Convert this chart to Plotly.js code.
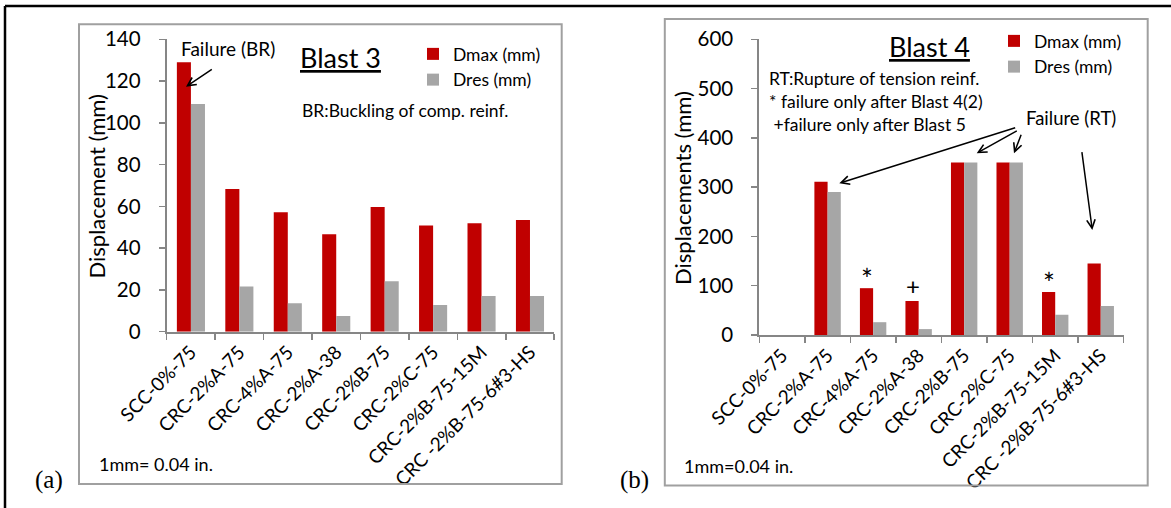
<!DOCTYPE html>
<html>
<head>
<meta charset="utf-8">
<script src="https://cdn.plot.ly/plotly-3.0.1.min.js"></script>
<style>
html,body{margin:0;padding:0;background:#fff;}
#chart{width:1171px;height:508px;}
</style>
</head>
<body>
<div id="chart"></div>
<script>
// ---- data ----
const categories = ['SCC-0%-75','CRC-2%A-75','CRC-4%A-75','CRC-2%A-38','CRC-2%B-75','CRC-2%C-75','CRC-2%B-75-15M','CRC -2%B-75-6#3-HS'];
const blast3Dmax = [129, 68.3, 57.2, 46.6, 59.7, 50.9, 51.9, 53.5];
const blast3Dres = [109, 21.6, 13.6, 7.5, 24.1, 12.8, 17.1, 17.1];
const blast4Dmax = [null, 311, 95, 69, 350, 350, 87, 145];
const blast4Dres = [null, 290, 26, 12, 350, 350, 41, 59];
const seriesNames = ['Dmax (mm)', 'Dres (mm)'];
const blast3Ticks = [0, 20, 40, 60, 80, 100, 120, 140];
const blast4Ticks = [0, 100, 200, 300, 400, 500, 600];

// ---- styling helpers ----
const W = 1171, H = 508;
const px = v => v / W;
const py = v => 1 - v / H;
const FONT = 'Lato, "Open Sans", sans-serif';
const SERIF = '"Liberation Serif", "Times New Roman", serif';
const RED = '#C00000', GREY = '#A6A6A6', AXIS = '#868686';

const traces = [
  {type:'bar', x:categories, y:blast3Dmax, name:seriesNames[0], marker:{color:RED}, xaxis:'x', yaxis:'y', legend:'legend'},
  {type:'bar', x:categories, y:blast3Dres, name:seriesNames[1], marker:{color:GREY}, xaxis:'x', yaxis:'y', legend:'legend'},
  {type:'bar', x:categories, y:blast4Dmax, name:seriesNames[0], marker:{color:RED}, xaxis:'x2', yaxis:'y2', legend:'legend2'},
  {type:'bar', x:categories, y:blast4Dres, name:seriesNames[1], marker:{color:GREY}, xaxis:'x2', yaxis:'y2', legend:'legend2'}
];

function xAxis(dom, anchor){
  return {domain:dom, anchor:anchor, type:'category', showline:true, linecolor:AXIS, linewidth:2,
    ticks:'outside', tickson:'boundaries', ticklen:6, tickcolor:AXIS, tickwidth:1.5,
    tickangle:-45, tickfont:{family:FONT, size:19, color:'#000'}, showgrid:false, zeroline:false, fixedrange:true};
}
function yAxis(dom, anchor, range, ticks){
  return {domain:dom, anchor:anchor, range:range, tickvals:ticks, showline:true, linecolor:AXIS, linewidth:2,
    ticks:'outside', ticklen:6, tickcolor:AXIS, tickwidth:1.5, ticklabelstandoff:14,
    tickfont:{family:FONT, size:20.5, color:'#000'}, showgrid:false, zeroline:false, fixedrange:true};
}

const ann = [];
function txt(text, x, y, size, xanchor, extra){
  ann.push(Object.assign({text:text, xref:'paper', yref:'paper', x:px(x), y:py(y), xanchor:xanchor||'center', yanchor:'middle',
    showarrow:false, font:{family:FONT, size:size, color:'#000'}}, extra||{}));
}
function arrow(hx, hy, tx, ty){
  ann.push({text:'', xref:'paper', yref:'paper', x:px(hx), y:py(hy), ax:tx-hx, ay:ty-hy, axref:'pixel', ayref:'pixel',
    showarrow:true, arrowhead:5, arrowsize:1.1, arrowwidth:1.5, arrowcolor:'#000', standoff:0, startstandoff:0});
}
// axis titles
txt('Displacement (mm)', 96, 186.5, 22, 'center', {textangle:-90});
txt('Displacements (mm)', 682, 188, 22, 'center', {textangle:-90});
// left panel texts
txt('Failure (BR)', 227.5, 48, 19);
txt('<u>Blast 3</u>', 340.8, 57, 27);
txt('BR:Buckling of comp. reinf.', 300, 110, 17.5, 'left');
txt('1mm= 0.04 in.', 96.7, 464, 18, 'left');
txt('(a)', 49, 480, 25, 'center', {font:{family:SERIF, size:25, color:'#000'}});
arrow(186, 86.7, 213.3, 68.3);
// right panel texts
txt('RT:Rupture of tension reinf.<br>* failure only after Blast 4(2)<br> +failure only after Blast 5', 767, 101.2, 17.5, 'left', {align:'left'});
txt('<u>Blast 4</u>', 929, 46.5, 27);
txt('Failure (RT)', 1071, 117.7, 18.5);
txt('1mm=0.04 in.', 681.7, 465.7, 18, 'left');
txt('(b)', 634.5, 480, 25, 'center', {font:{family:SERIF, size:25, color:'#000'}});
arrow(839.3, 183.3, 1016.7, 127.3);
arrow(976.7, 153.3, 1018.3, 130);
arrow(1014, 153.3, 1021.7, 133.3);
arrow(1092.3, 230, 1081.7, 150.7);
// markers above bars (anchored to data)
[[2,'*'],[3,'+'],[6,'*']].forEach(([i, s]) => {
  ann.push({text:s, xref:'x2', yref:'y2', x:categories[i], y:blast4Dmax[i], xshift:-6, yshift:s === '*' ? -10 : -1, yanchor:'bottom',
    showarrow:false, font:{family:FONT, size:s === '*' ? 28 : 24, color:'#000'}});
});

const shapes = [
  {type:'rect', xref:'paper', yref:'paper', x0:px(79), x1:px(561.7), y0:py(484), y1:py(24.3), line:{color:'#A0A0A0', width:2}},
  {type:'rect', xref:'paper', yref:'paper', x0:px(664.8), x1:px(1147.7), y0:py(485.5), y1:py(19), line:{color:'#A0A0A0', width:2}},
  {type:'line', xref:'paper', yref:'paper', x0:px(5), x1:1, y0:py(6), y1:py(6), line:{color:'#000', width:2.5}},
  {type:'line', xref:'paper', yref:'paper', x0:px(5), x1:px(5), y0:py(6), y1:0, line:{color:'#000', width:2.5}}
];

const layout = {
  width:W, height:H, margin:{l:0, r:0, t:0, b:0}, paper_bgcolor:'#fff', plot_bgcolor:'rgba(0,0,0,0)',
  barmode:'group', bargap:0.42, bargroupgap:0, showlegend:true,
  font:{family:FONT, color:'#000'},
  xaxis: xAxis([px(166.7), px(554.2)], 'y'),
  yaxis: yAxis([py(331.7), py(39.3)], 'x', [0, 140], blast3Ticks),
  xaxis2: xAxis([px(759.3), px(1123.5)], 'y2'),
  yaxis2: yAxis([py(335), py(39.3)], 'x2', [0, 600], blast4Ticks),
  legend:{x:px(413), y:py(36), xanchor:'left', yanchor:'top', bgcolor:'rgba(0,0,0,0)', borderwidth:0,
    font:{family:FONT, size:17.5, color:'#000'}, tracegroupgap:0},
  legend2:{x:px(994), y:py(23), xanchor:'left', yanchor:'top', bgcolor:'rgba(0,0,0,0)', borderwidth:0,
    font:{family:FONT, size:17.5, color:'#000'}, tracegroupgap:0},
  annotations:ann, shapes:shapes
};

Plotly.newPlot('chart', traces, layout, {staticPlot:true, displayModeBar:false});
</script>
</body>
</html>
